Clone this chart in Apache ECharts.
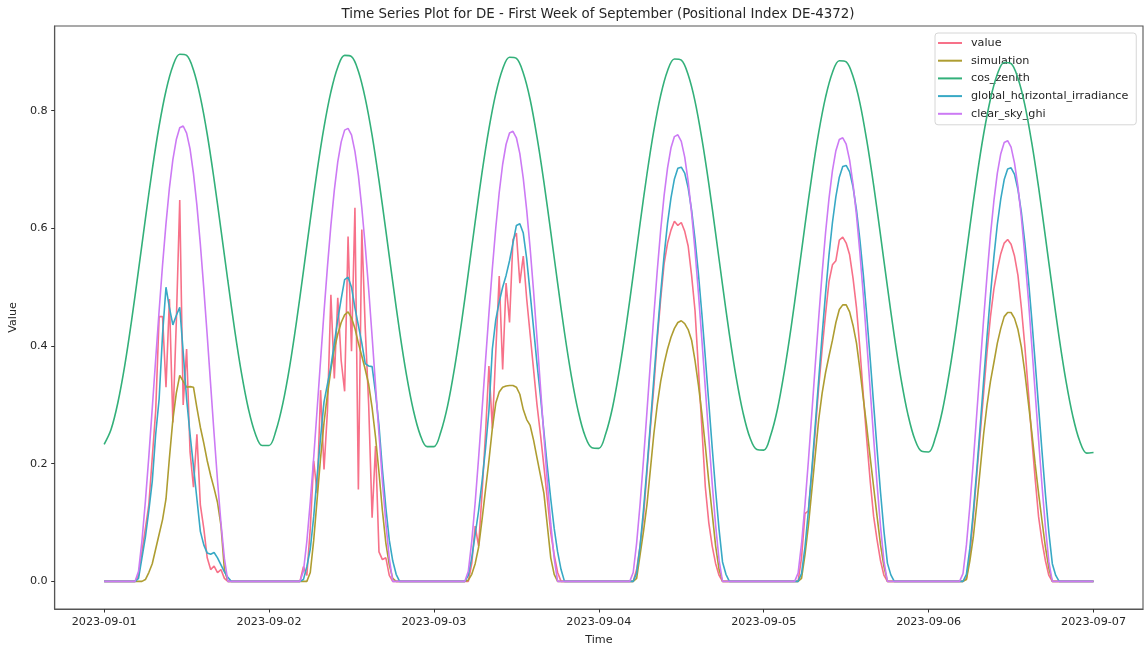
<!DOCTYPE html>
<html>
<head>
<meta charset="utf-8">
<script src="https://cdn.jsdelivr.net/npm/echarts@6/dist/echarts.min.js"></script>
<style>
  html, body { margin: 0; padding: 0; background: #ffffff; }
  #chart { width: 1146px; height: 651px; }
</style>
</head>
<body>
<div id="chart"></div>
<script>
// ---- labels ----
const titleText = 'Time Series Plot for DE - First Week of September (Positional Index DE-4372)';
const seriesNames = ['value', 'simulation', 'cos_zenith', 'global_horizontal_irradiance', 'clear_sky_ghi'];
const seriesColors = ['#f77189', '#ae9d31', '#33b07a', '#38a9c5', '#cc7af4'];
const dayTicks = ['2023-09-01', '2023-09-02', '2023-09-03', '2023-09-04', '2023-09-05', '2023-09-06', '2023-09-07'];
const yTicks = [0, 0.2, 0.4, 0.6, 0.8];

// ---- sampling ----
const startTime = Date.UTC(2023, 8, 1);
const HOUR = 3600000;
const HALF_HOUR = 1800000;
const DAY = 24 * HOUR;

// half-hourly values, one row per day (00:00 ... 23:30), closing point 2023-09-07 00:00
const value = [
  [0,0,0,0,0,0,0,0,0, 0,0.01,0.05,0.09,0.13,0.21,0.29,0.45,0.45,0.33,0.48,0.27,0.44,0.648,0.30,0.395,0.22,0.16,0.25,0.13,0.09,0.04,0.02,0.026,0.015,0.02,0.005,0,0,0, 0,0,0,0,0,0,0,0,0],
  [0,0,0,0,0,0,0,0,0, 0,0.025,0.01,0.09,0.205,0.15,0.325,0.19,0.29,0.487,0.345,0.482,0.375,0.323,0.586,0.391,0.635,0.156,0.598,0.43,0.30,0.108,0.23,0.05,0.037,0.04,0.01,0,0,0, 0,0,0,0,0,0,0,0,0],
  [0,0,0,0,0,0,0,0,0, 0,0,0.03,0.094,0.06,0.15,0.25,0.366,0.26,0.39,0.519,0.36,0.507,0.44,0.581,0.592,0.507,0.553,0.48,0.42,0.36,0.30,0.25,0.196,0.14,0.083,0.045,0.015,0,0, 0,0,0,0,0,0,0,0,0],
  [0,0,0,0,0,0,0,0,0, 0,0,0.02,0.06,0.11,0.185,0.26,0.33,0.41,0.48,0.54,0.575,0.597,0.612,0.605,0.61,0.595,0.57,0.52,0.46,0.36,0.26,0.16,0.1,0.06,0.03,0.01,0,0,0, 0,0,0,0,0,0,0,0,0],
  [0,0,0,0,0,0,0,0,0, 0,0,0.04,0.115,0.12,0.185,0.255,0.33,0.395,0.455,0.51,0.538,0.545,0.58,0.585,0.575,0.555,0.515,0.465,0.395,0.315,0.24,0.17,0.11,0.07,0.035,0.01,0,0,0, 0,0,0,0,0,0,0,0,0],
  [0,0,0,0,0,0,0,0,0, 0,0,0.005,0.045,0.11,0.18,0.25,0.32,0.39,0.45,0.497,0.53,0.557,0.575,0.581,0.573,0.553,0.52,0.465,0.4,0.325,0.245,0.175,0.11,0.068,0.035,0.01,0,0,0, 0,0,0,0,0,0,0,0,0],
  [0]
].flat();

const simulation = [
  [0,0,0,0,0,0,0,0,0, 0,0,0,0.003,0.015,0.03,0.055,0.08,0.105,0.14,0.21,0.275,0.32,0.35,0.34,0.33,0.331,0.33,0.295,0.262,0.235,0.205,0.18,0.158,0.134,0.095,0.02,0,0,0, 0,0,0,0,0,0,0,0,0],
  [0,0,0,0,0,0,0,0,0, 0,0,0,0.015,0.07,0.14,0.21,0.27,0.318,0.36,0.395,0.42,0.44,0.453,0.458,0.448,0.43,0.405,0.383,0.36,0.335,0.295,0.245,0.185,0.12,0.065,0.028,0.005,0,0, 0,0,0,0,0,0,0,0,0],
  [0,0,0,0,0,0,0,0,0, 0,0.002,0.012,0.03,0.058,0.105,0.155,0.205,0.26,0.303,0.322,0.33,0.332,0.333,0.333,0.33,0.318,0.292,0.275,0.265,0.24,0.21,0.18,0.15,0.095,0.04,0.012,0,0,0, 0,0,0,0,0,0,0,0,0],
  [0,0,0,0,0,0,0,0,0, 0,0,0.005,0.045,0.085,0.13,0.19,0.25,0.30,0.34,0.37,0.395,0.415,0.43,0.44,0.443,0.438,0.428,0.41,0.375,0.333,0.285,0.23,0.17,0.115,0.06,0.02,0,0,0, 0,0,0,0,0,0,0,0,0],
  [0,0,0,0,0,0,0,0,0, 0,0,0.005,0.045,0.095,0.155,0.215,0.275,0.32,0.355,0.383,0.41,0.44,0.462,0.47,0.47,0.458,0.435,0.405,0.36,0.31,0.262,0.21,0.16,0.11,0.062,0.025,0,0,0, 0,0,0,0,0,0,0,0,0],
  [0,0,0,0,0,0,0,0,0, 0,0,0.003,0.035,0.075,0.13,0.19,0.25,0.30,0.34,0.372,0.405,0.43,0.45,0.457,0.457,0.447,0.428,0.398,0.355,0.305,0.255,0.2,0.15,0.103,0.058,0.022,0,0,0, 0,0,0,0,0,0,0,0,0],
  [0]
].flat();

const globalHorizontalIrradiance = [
  [0,0,0,0,0,0,0,0,0, 0,0.005,0.04,0.075,0.12,0.17,0.25,0.31,0.42,0.50,0.465,0.436,0.452,0.466,0.39,0.31,0.25,0.195,0.14,0.085,0.062,0.048,0.046,0.049,0.04,0.028,0.016,0.007,0,0, 0,0,0,0,0,0,0,0,0],
  [0,0,0,0,0,0,0,0,0, 0,0.003,0.025,0.055,0.11,0.18,0.245,0.305,0.335,0.365,0.405,0.445,0.48,0.513,0.517,0.50,0.465,0.435,0.405,0.37,0.366,0.365,0.32,0.265,0.19,0.125,0.07,0.035,0.012,0, 0,0,0,0,0,0,0,0,0],
  [0,0,0,0,0,0,0,0,0, 0,0.01,0.04,0.08,0.12,0.17,0.225,0.29,0.395,0.445,0.475,0.50,0.52,0.545,0.575,0.605,0.608,0.592,0.548,0.49,0.43,0.37,0.315,0.255,0.195,0.14,0.09,0.05,0.02,0, 0,0,0,0,0,0,0,0,0],
  [0,0,0,0,0,0,0,0,0, 0,0,0.014,0.06,0.122,0.192,0.267,0.344,0.419,0.49,0.554,0.609,0.652,0.684,0.702,0.704,0.694,0.669,0.631,0.581,0.522,0.454,0.38,0.304,0.227,0.154,0.088,0.033,0.012,0, 0,0,0,0,0,0,0,0,0],
  [0,0,0,0,0,0,0,0,0, 0,0,0.013,0.058,0.12,0.19,0.266,0.343,0.419,0.49,0.555,0.61,0.654,0.687,0.705,0.707,0.696,0.67,0.631,0.58,0.52,0.451,0.377,0.3,0.224,0.151,0.085,0.031,0.011,0, 0,0,0,0,0,0,0,0,0],
  [0,0,0,0,0,0,0,0,0, 0,0,0.012,0.056,0.118,0.188,0.263,0.34,0.416,0.487,0.552,0.607,0.65,0.683,0.701,0.703,0.692,0.666,0.627,0.576,0.516,0.447,0.373,0.297,0.221,0.148,0.083,0.03,0.01,0, 0,0,0,0,0,0,0,0,0],
  [0]
].flat();

const clearSkyGhi = [
  [0,0,0,0,0,0,0,0,0, 0,0.017,0.069,0.136,0.212,0.294,0.378,0.460,0.538,0.608,0.669,0.717,0.751,0.771,0.774,0.762,0.735,0.693,0.639,0.573,0.498,0.418,0.334,0.251,0.171,0.099,0.039,0,0,0, 0,0,0,0,0,0,0,0,0],
  [0,0,0,0,0,0,0,0,0, 0,0.017,0.068,0.135,0.211,0.293,0.376,0.458,0.535,0.605,0.665,0.713,0.747,0.767,0.770,0.759,0.731,0.690,0.635,0.570,0.496,0.416,0.333,0.250,0.170,0.099,0.039,0,0,0, 0,0,0,0,0,0,0,0,0],
  [0,0,0,0,0,0,0,0,0, 0,0.017,0.068,0.134,0.210,0.291,0.374,0.455,0.532,0.601,0.661,0.709,0.743,0.762,0.765,0.754,0.727,0.685,0.631,0.566,0.493,0.413,0.331,0.248,0.169,0.098,0.039,0,0,0, 0,0,0,0,0,0,0,0,0],
  [0,0,0,0,0,0,0,0,0, 0,0.015,0.065,0.131,0.207,0.288,0.371,0.451,0.528,0.597,0.656,0.703,0.737,0.756,0.759,0.748,0.721,0.680,0.626,0.562,0.489,0.410,0.328,0.245,0.166,0.095,0.036,0,0,0, 0,0,0,0,0,0,0,0,0],
  [0,0,0,0,0,0,0,0,0, 0,0.014,0.064,0.130,0.205,0.286,0.368,0.448,0.524,0.593,0.651,0.698,0.732,0.751,0.754,0.743,0.716,0.675,0.622,0.558,0.485,0.406,0.325,0.243,0.164,0.093,0.034,0,0,0, 0,0,0,0,0,0,0,0,0],
  [0,0,0,0,0,0,0,0,0, 0,0.013,0.062,0.128,0.203,0.284,0.365,0.445,0.520,0.589,0.647,0.694,0.727,0.746,0.749,0.738,0.711,0.671,0.618,0.554,0.482,0.403,0.322,0.241,0.163,0.092,0.033,0,0,0, 0,0,0,0,0,0,0,0,0],
  [0]
].flat();

// hourly values, one row per day (00:00 ... 23:00), closing point 2023-09-07 00:00
const cosZenith = [
  [0.233,0.258,0.304,0.367,0.444,0.529,0.616,0.700,0.774,0.834,0.876,0.896,0.894,0.869,0.823,0.760,0.683,0.598,0.511,0.427,0.353,0.293,0.251,0.231],
  [0.231,0.256,0.302,0.365,0.442,0.527,0.614,0.698,0.772,0.832,0.874,0.894,0.892,0.867,0.821,0.758,0.681,0.596,0.509,0.425,0.351,0.291,0.249,0.229],
  [0.229,0.254,0.299,0.363,0.439,0.524,0.611,0.695,0.769,0.829,0.871,0.891,0.889,0.864,0.819,0.755,0.679,0.594,0.507,0.423,0.349,0.289,0.247,0.227],
  [0.226,0.251,0.296,0.360,0.436,0.521,0.608,0.692,0.766,0.826,0.868,0.888,0.886,0.861,0.816,0.752,0.676,0.591,0.504,0.420,0.346,0.286,0.244,0.224],
  [0.223,0.248,0.293,0.357,0.433,0.518,0.605,0.689,0.763,0.823,0.865,0.885,0.883,0.858,0.813,0.749,0.673,0.588,0.501,0.417,0.343,0.283,0.241,0.221],
  [0.220,0.245,0.290,0.354,0.430,0.515,0.602,0.686,0.760,0.820,0.862,0.882,0.880,0.855,0.810,0.746,0.670,0.585,0.498,0.414,0.340,0.280,0.238,0.218],
  [0.219]
].flat();

// pair each value with its timestamp (ms since epoch, UTC)
function toPoints(values, step) {
  return values.map((v, i) => [startTime + i * step, v]);
}

const seriesValues = [
  toPoints(value, HALF_HOUR),
  toPoints(simulation, HALF_HOUR),
  toPoints(cosZenith, HOUR),
  toPoints(globalHorizontalIrradiance, HALF_HOUR),
  toPoints(clearSkyGhi, HALF_HOUR)
];
// the hourly cos_zenith curve is drawn with a light spline
const seriesSmooth = [false, false, 0.35, false, false];

const dayTickTimes = dayTicks.map((_, i) => startTime + i * DAY);
const FONT = 'DejaVu Sans, sans-serif';
const TEXT = '#262626';

const chart = echarts.init(document.getElementById('chart'), null, { renderer: 'canvas' });

chart.setOption({
  animation: false,
  backgroundColor: '#ffffff',
  title: {
    text: titleText,
    left: 598,
    top: 8,
    padding: 0,
    textAlign: 'center',
    textStyle: { fontFamily: FONT, fontSize: 13.4, fontWeight: 'normal', color: TEXT }
  },
  grid: {
    left: 54, right: 3, top: 26, bottom: 41,
    show: true, borderColor: '#555555', borderWidth: 1.1,
    containLabel: false
  },
  legend: {
    orient: 'vertical',
    left: 935,
    top: 33,
    icon: 'rect',
    itemWidth: 24,
    itemHeight: 2,
    itemGap: 3.7,
    padding: [3, 8, 4, 3],
    backgroundColor: 'rgba(255,255,255,0.85)',
    borderColor: '#d6d6d6',
    borderWidth: 1,
    borderRadius: 3,
    data: seriesNames,
    textStyle: { fontFamily: FONT, fontSize: 11.2, color: TEXT, lineHeight: 14, padding: [0, 0, 0, 4] }
  },
  // time runs along a numeric axis in milliseconds; ticks sit on each midnight
  xAxis: {
    type: 'value',
    min: startTime - 0.3 * DAY,
    max: startTime + 6.3 * DAY,
    splitLine: { show: false },
    axisLine: { show: true, onZero: false, lineStyle: { color: '#555555', width: 1.1 } },
    axisTick: { show: true, customValues: dayTickTimes, length: 3.5, lineStyle: { color: '#333333', width: 1 } },
    axisLabel: {
      customValues: dayTickTimes,
      formatter: (v) => dayTicks[Math.round((v - startTime) / DAY)],
      fontFamily: FONT, fontSize: 11.2, color: TEXT, margin: 8
    },
    name: 'Time',
    nameLocation: 'middle',
    nameGap: 26,
    nameTextStyle: { fontFamily: FONT, fontSize: 11.2, color: TEXT }
  },
  yAxis: {
    type: 'value',
    min: -0.047,
    max: 0.944,
    splitLine: { show: false },
    axisLine: { show: true, onZero: false, lineStyle: { color: '#555555', width: 1.1 } },
    axisTick: { show: true, customValues: yTicks, length: 3.5, lineStyle: { color: '#333333', width: 1 } },
    axisLabel: {
      customValues: yTicks,
      formatter: (v) => v.toFixed(1),
      fontFamily: FONT, fontSize: 11.2, color: TEXT, margin: 7
    },
    name: 'Value',
    nameLocation: 'middle',
    nameGap: 29,
    nameTextStyle: { fontFamily: FONT, fontSize: 11.2, color: TEXT }
  },
  series: seriesNames.map((name, i) => ({
    name: name,
    type: 'line',
    data: seriesValues[i],
    showSymbol: false,
    symbol: 'none',
    smooth: seriesSmooth[i],
    color: seriesColors[i],
    lineStyle: { width: 1.6, color: seriesColors[i] },
    emphasis: { disabled: true },
    z: 2 + i
  }))
});
</script>
</body>
</html>
